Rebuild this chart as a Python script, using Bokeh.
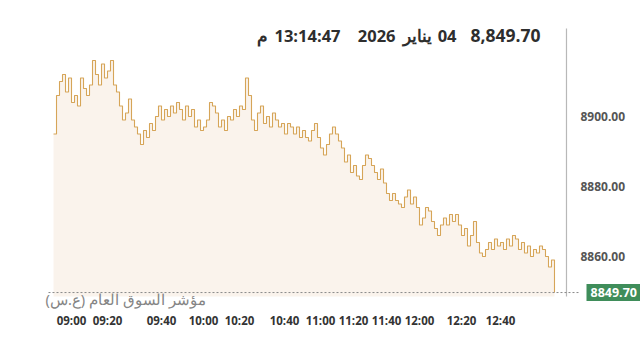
from bokeh.plotting import figure
from bokeh.models import FixedTicker, Range1d, Label
from bokeh.core.properties import value
from bokeh.embed import file_html
from bokeh.resources import INLINE

# ---- data ----
prices = [8895, 8906, 8910, 8912, 8907, 8911, 8904, 8906, 8903, 8911,
          8908, 8906, 8909, 8916, 8912, 8909, 8915, 8911, 8913, 8916,
          8909, 8907, 8903, 8899, 8901, 8905, 8899, 8897, 8895, 8892,
          8896, 8894, 8898, 8896, 8900, 8903, 8899, 8902, 8900, 8903,
          8901, 8904, 8902, 8899, 8903, 8900, 8902, 8897, 8899, 8896,
          8897, 8899, 8904, 8903, 8901, 8897, 8899, 8896, 8900, 8899,
          8902, 8900, 8903, 8902, 8911, 8906, 8899, 8896, 8901, 8903,
          8898, 8900, 8897, 8901, 8899, 8897, 8898, 8895, 8898, 8897,
          8895, 8897, 8894, 8896, 8894, 8893, 8896, 8898, 8894, 8891,
          8889, 8892, 8895, 8897, 8895, 8893, 8891, 8887, 8889, 8884,
          8886, 8883, 8882, 8886, 8889, 8888, 8886, 8884, 8882, 8885,
          8881, 8878, 8876, 8878, 8876, 8875, 8874, 8877, 8879, 8875,
          8877, 8874, 8869, 8871, 8874, 8873, 8870, 8868, 8866, 8869,
          8871, 8869, 8872, 8870, 8872, 8869, 8866, 8868, 8863, 8866,
          8870, 8864, 8861, 8860, 8862, 8864, 8862, 8865, 8863, 8864,
          8862, 8865, 8863, 8866, 8865, 8862, 8864, 8861, 8863, 8860,
          8862, 8861, 8863, 8862, 8860, 8857, 8859, 8849.70]
idx = list(range(len(prices)))

tick_idx = [6, 18, 36, 50, 62, 77, 89, 100, 111, 122, 136, 149]
tick_labels = ["09:00", "09:20", "09:40", "10:00", "10:20", "10:40",
               "11:00", "11:20", "11:40", "12:00", "12:20", "12:40"]
y_ticks = [8860, 8880, 8900]

header_value = "8,849.70"
header_day = "04"
header_month = "يناير"
header_year = "2026"
header_time = "13:14:47"
header_pm = "م"
index_name = "مؤشر السوق العام (ع.س)\u200f"

# ---- layout constants (plot geometry, not data) ----
X_LEFT, X_RIGHT = -17.67, 195.67      # canvas spans the whole width
Y_BOTTOM, Y_TOP = 8844.57, 8933.14
FILL_BASE = 8848.57                   # bottom of the chart area
AXIS_X, AXIS_TOP = 171.0, 8925.14     # right border of the chart area
LABEL_X = 175.67                      # y tick label column
DOT_X0 = -1.67

last = prices[-1]

p = figure(width=640, height=338, output_backend="svg", toolbar_location=None,
           x_range=Range1d(X_LEFT, X_RIGHT), y_range=Range1d(Y_BOTTOM, Y_TOP),
           y_axis_location=None,
           min_border_left=0, min_border_right=0, min_border_top=0,
           min_border_bottom=28)
p.background_fill_color = "white"
p.border_fill_color = "white"
p.outline_line_color = None
p.grid.visible = False

p.varea_step(x=idx, y1=[FILL_BASE] * len(idx), y2=prices, step_mode="after",
             fill_color="#faf3ec")
p.step(x=idx, y=prices, mode="after", line_color="#d6a558", line_width=1.1)

# right border / axis line
p.segment(x0=[AXIS_X], y0=[FILL_BASE], x1=[AXIS_X], y1=[AXIS_TOP],
          line_color="#b8b8b8", line_width=1.2)

# dotted last-price line
p.segment(x0=[DOT_X0], y0=[last], x1=[LABEL_X], y1=[last],
          line_color="#8a8a8a", line_dash="2 2", line_width=1)

# y tick labels
p.text(x=[LABEL_X] * len(y_ticks), y=y_ticks,
       text=[f"{t:.2f}" for t in y_ticks], text_align="left",
       text_baseline="middle", text_font=value("Open Sans"),
       text_font_style="bold", text_font_size="12px", text_color="#555555")

# x axis
xa = p.xaxis[0]
xa.ticker = FixedTicker(ticks=tick_idx)
xa.major_label_overrides = {t: l for t, l in zip(tick_idx, tick_labels)}
xa.axis_line_color = None
xa.major_tick_line_color = None
xa.minor_tick_line_color = None
xa.major_tick_out = 0
xa.major_tick_in = 0
xa.major_label_standoff = 2
xa.major_label_text_font = "Open Sans"
xa.major_label_text_font_style = "bold"
xa.major_label_text_font_size = "11.5px"
xa.major_label_text_color = "#333333"

# header pieces (visual right-to-left order)
def hdr(txt, x_right, size="16.5px"):
    p.add_layout(Label(x=x_right, y=275, x_units="screen", y_units="screen",
                       text=txt, text_align="right", text_baseline="middle",
                       text_font="Open Sans", text_font_style="bold",
                       text_font_size=size, text_color="#2e2e2e"))

hdr(header_value, 540, "17.5px")
hdr(header_day, 456)
hdr(header_month, 431)
hdr(header_year, 395)
hdr(header_time, 340)
hdr(header_pm, 267)

p.add_layout(Label(x=205, y=12, x_units="screen", y_units="screen",
                   text=index_name, text_align="right", text_baseline="middle",
                   text_font="Noto Sans", text_font_size="14.5px",
                   text_color="#858585"))

p.add_layout(Label(x=586, y=last, x_units="screen", y_units="data",
                   text=f"{last:.2f}", text_align="left", text_baseline="middle",
                   text_font="Open Sans", text_font_style="bold",
                   text_font_size="12.5px", text_color="white",
                   background_fill_color="#3f8d5a", padding=4))

open("out.html", "w").write(file_html(p, INLINE))
